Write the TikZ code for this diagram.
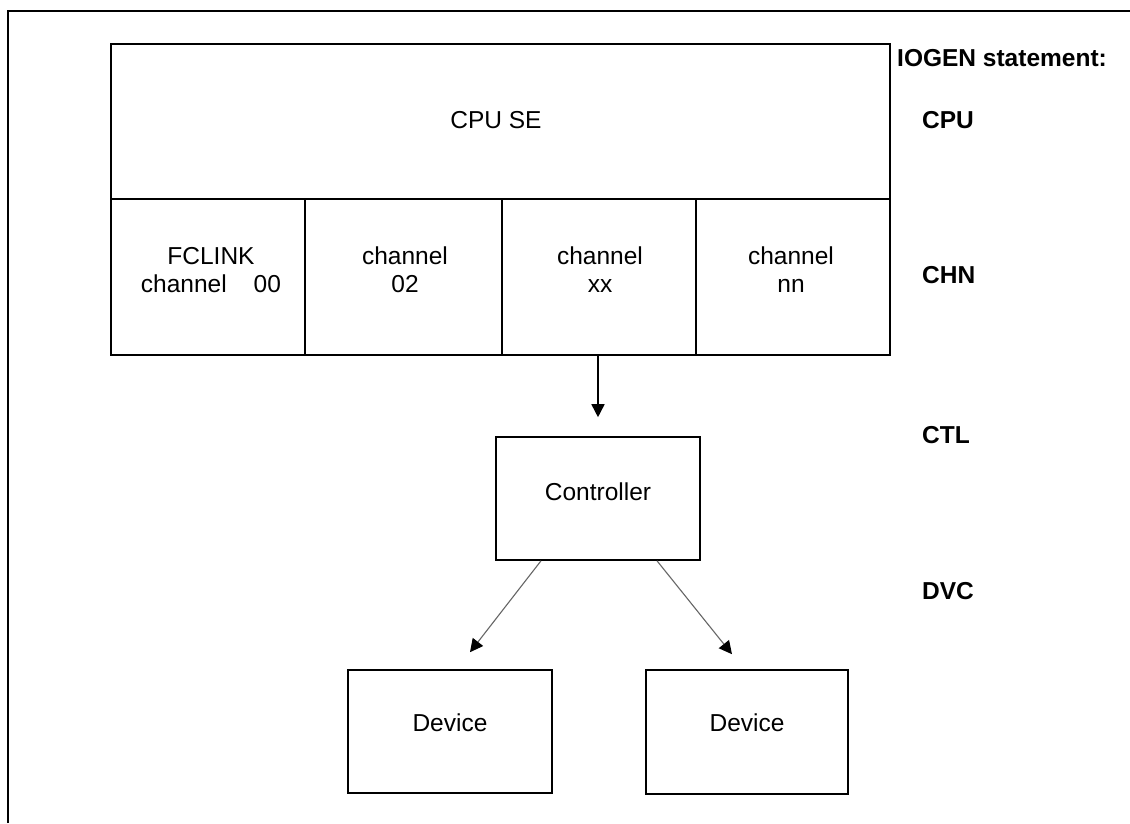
\documentclass[tikz,border=0pt]{standalone}
\usepackage{fontspec}
\setmainfont{Liberation Sans}
\usetikzlibrary{arrows.meta}
\begin{document}
\begin{tikzpicture}[x=1pt,y=-1pt,
  box/.style={draw=black,line width=1.6pt,rectangle,inner sep=0pt},
  txt/.style={font=\fontsize{24.5}{28}\selectfont,align=center,inner sep=0pt},
  lbl/.style={font=\fontsize{24.5}{28}\selectfont\bfseries,anchor=west,inner sep=0pt},
  arr/.style={line width=1.6pt,-{Triangle[width=13pt,length=13pt]}},
  thinarr/.style={draw=black!60,line width=1.1pt,-{Triangle[width=13pt,length=13pt,fill=black,color=black]}}]
\useasboundingbox (0,0) rectangle (1130,823);
\fill[white] (0,0) rectangle (1130,823);
% frame
\draw[line width=2.2pt] (8,823) -- (8,11) -- (1130,11);
% CPU box
\node[box,minimum width=779pt,minimum height=155pt] (cpu) at (500.5,121.5) {};
\node[txt] (cput) at (496,120) {CPU SE};
% channels
\node[box,minimum width=194pt,minimum height=156pt] (ch1) at (208,277) {};
\node[box,minimum width=197pt,minimum height=156pt] (ch2) at (403.5,277) {};
\node[box,minimum width=194pt,minimum height=156pt] (ch3) at (599,277) {};
\node[box,minimum width=194pt,minimum height=156pt] (ch4) at (793,277) {};
\node[txt] (ch1t) at (211,270) {FCLINK\\channel\hspace{1.1em}00};
\node[txt] (ch2t) at (405,270) {channel\\02};
\node[txt] (ch3t) at (600,270) {channel\\xx};
\node[txt] (ch4t) at (791,270) {channel\\nn};
% controller
\node[box,minimum width=204pt,minimum height=123pt] (ctl) at (598,498.5) {};
\node[txt] (ctlt) at (598,492) {Controller};
% devices
\node[box,minimum width=204pt,minimum height=123pt] (dev1) at (450,731.5) {};
\node[txt] (dev1t) at (450,723) {Device};
\node[box,minimum width=202pt,minimum height=124pt] (dev2) at (747,732) {};
\node[txt] (dev2t) at (747,723) {Device};
% labels
\node[lbl] (iogen) at (897,58) {IOGEN statement:};
\node[lbl] (lcpu) at (922,120) {CPU};
\node[lbl] (lchn) at (922,275) {CHN};
\node[lbl] (lctl) at (922,435) {CTL};
\node[lbl] (ldvc) at (922,591) {DVC};
% connectors
\coordinate (a0) at ([xshift=-1pt]ch3.south);
\coordinate (a1) at ([yshift=19pt]ctl.north);
\draw[arr] (a0) -- (a1);
\coordinate (b0) at ([xshift=-57pt]ctl.south);
\coordinate (b1) at ([xshift=20pt,yshift=17pt]dev1.north);
\draw[thinarr] (b0) -- (b1);
\coordinate (c0) at ([xshift=59pt]ctl.south);
\coordinate (c1) at ([xshift=-15pt,yshift=15pt]dev2.north);
\draw[thinarr] (c0) -- (c1);
\end{tikzpicture}
\end{document}
